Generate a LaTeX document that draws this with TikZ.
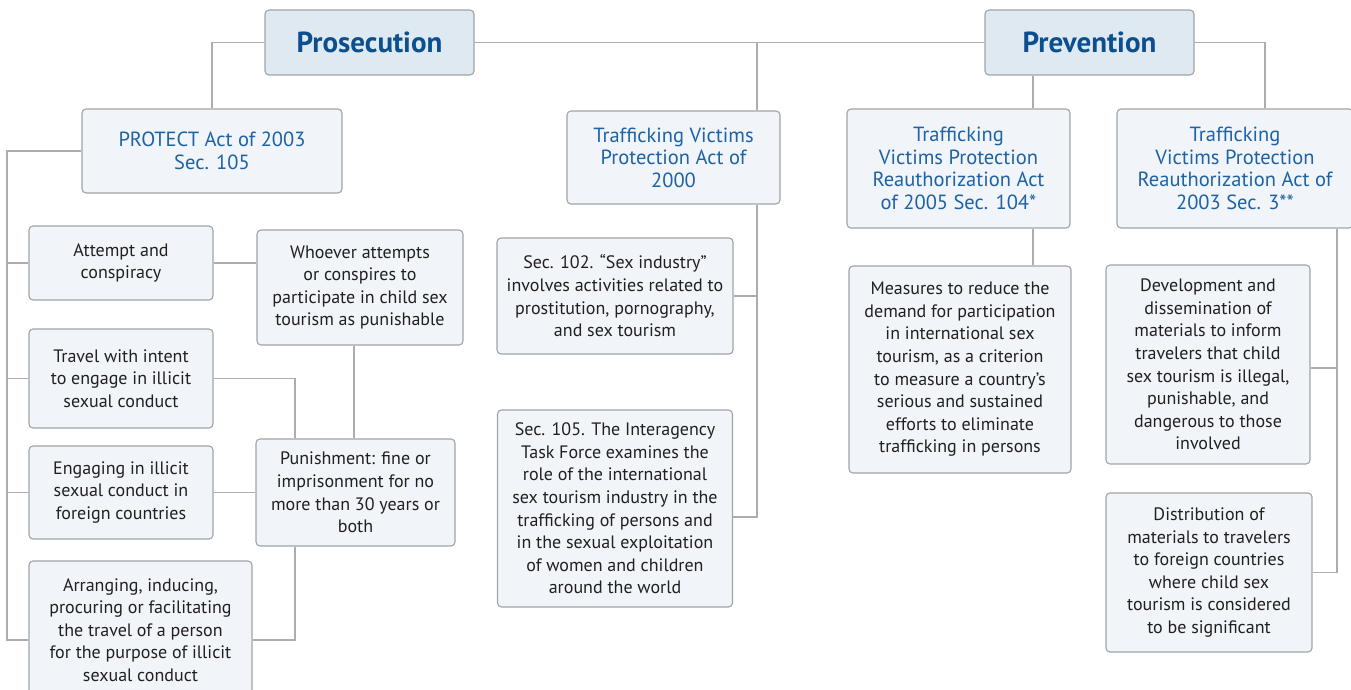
\documentclass[tikz,border=0pt]{standalone}
\usepackage{fontspec}
\setmainfont{PT Sans}
\usepackage{tikz}
\definecolor{headfill}{HTML}{DFE9F1}
\definecolor{boxfill}{HTML}{F1F4F9}
\definecolor{boxline}{HTML}{A0A4A9}
\definecolor{linkgray}{HTML}{ADADAD}
\definecolor{titleblue}{HTML}{0B4F8F}
\definecolor{actblue}{HTML}{1D63A5}
\definecolor{bodytext}{HTML}{231F20}
\tikzset{
  box/.style={draw=boxline, fill=boxfill, line width=1.1pt, rounded corners=4pt,
    inner sep=0pt, align=center, text=bodytext, font=\fontsize{18}{22.6}\selectfont},
  headbox/.style={box, fill=headfill, text=titleblue, font=\fontsize{29}{32}\selectfont\bfseries},
  actbox/.style={box, text=actblue, font=\fontsize{20.5}{22.6}\selectfont},
  link/.style={draw=linkgray, line width=1.1pt}
}
\begin{document}
\begin{tikzpicture}[x=1pt,y=-1pt]
  \useasboundingbox (0,0) rectangle (1351,690);
  % top level
  \node[headbox, minimum width=209, minimum height=65] (pros) at (369.5,42.5) {Prosecution};
  \node[headbox, minimum width=209, minimum height=65] (prev) at (1089.5,42.5) {Prevention};
  % acts
  \node[actbox, minimum width=260, minimum height=84] (protect) at (212,151) {PROTECT Act of 2003\\Sec. 105};
  \node[actbox, minimum width=213, minimum height=93] (tvpa) at (673.5,157.5) {Trafficking Victims\\Protection Act of\\2000};
  \node[actbox, minimum width=223, minimum height=119] (tvpraA) at (958.5,168.5) {Trafficking\\Victims Protection\\Reauthorization Act\\of 2005 Sec. 104*};
  \node[actbox, minimum width=236, minimum height=119] (tvpraB) at (1235,168.5) {Trafficking\\Victims Protection\\Reauthorization Act of\\2003 Sec. 3**};
  % PROTECT Act items
  \node[box, minimum width=184, minimum height=74] (attempt) at (121,263) {Attempt and\\conspiracy};
  \node[box, minimum width=206, minimum height=115] (whoever) at (360,287.5) {Whoever attempts\\or conspires to\\participate in child sex\\tourism as punishable};
  \node[box, minimum width=184, minimum height=99] (travel) at (121,378.5) {Travel with intent\\to engage in illicit\\sexual conduct};
  \node[box, minimum width=184, minimum height=93] (engage) at (121,492.5) {Engaging in illicit\\sexual conduct in\\foreign countries};
  \node[box, minimum width=199, minimum height=107] (punish) at (355.5,492.5) {Punishment: fine or\\imprisonment for no\\more than 30 years or\\both};
  \node[box, minimum width=223, minimum height=138] (arrange) at (140.5,630) {Arranging, inducing,\\procuring or facilitating\\the travel of a person\\for the purpose of illicit\\sexual conduct};
  % TVPA sections
  \node[box, minimum width=236, minimum height=116] (secA) at (615,296) {Sec. 102. ``Sex industry''\\involves activities related to\\prostitution, pornography,\\and sex tourism};
  \node[box, minimum width=235, minimum height=197] (secB) at (615,508.5) {Sec. 105. The Interagency\\Task Force examines the\\role of the international\\sex tourism industry in the\\trafficking of persons and\\in the sexual exploitation\\of women and children\\around the world};
  % prevention items
  \node[box, minimum width=222, minimum height=207] (measures) at (960,369.5) {Measures to reduce the\\demand for participation\\in international sex\\tourism, as a criterion\\to measure a country's\\serious and sustained\\efforts to eliminate\\trafficking in persons};
  \node[box, minimum width=204, minimum height=199] (develop) at (1208,364.5) {Development and\\dissemination of\\materials to inform\\travelers that child\\sex tourism is illegal,\\punishable, and\\dangerous to those\\involved};
  \node[box, minimum width=206, minimum height=159] (distrib) at (1209,572.5) {Distribution of\\materials to travelers\\to foreign countries\\where child sex\\tourism is considered\\to be significant};

  % junction columns
  \coordinate (ls) at (7,0);
  \coordinate (mj) at (295,0);
  \coordinate (wj) at (354,0);
  \coordinate (tj) at (757,0);
  \coordinate (pj) at (1033,0);
  \coordinate (rj) at (1265,0);
  \coordinate (rs) at (1337,0);
  \coordinate (arrW) at ([yshift=-10pt]arrange.west);
  \coordinate (arrE) at ([yshift=-10pt]arrange.east);
  \coordinate (secBE) at ([yshift=-8.5pt]secB.east);
  \coordinate (devE) at ([yshift=-3.5pt]develop.east);

  % links
  \draw[link] (pros.west) -| (protect.north);
  \draw[link] (pros.east) -- (prev.west);
  \draw[link] (tj |- pros.east) -- (tj |- tvpa.north);
  \draw[link] (tj |- tvpa.south) |- (secBE);
  \draw[link] (tj |- secA.east) -- (secA.east);
  \draw[link] (pj |- prev.south) -- (pj |- tvpraA.north);
  \draw[link] (pj |- tvpraA.south) -- (pj |- measures.north);
  \draw[link] (prev.east) -| (rj |- tvpraB.north);
  \draw[link] (rs |- tvpraB.south) |- (distrib.east);
  \draw[link] (devE) -- (rs |- devE);
  \draw[link] (protect.west) -| (ls |- arrW) -- (arrW);
  \foreach \n in {attempt,travel,engage}
    \draw[link] (ls |- \n.west) -- (\n.west);
  \draw[link] (attempt.east) -- (attempt.east -| whoever.west);
  \draw[link] (wj |- whoever.south) -- (wj |- punish.north);
  \draw[link] (travel.east) -| (mj |- punish.north);
  \draw[link] (arrE) -| (mj |- punish.south);
  \draw[link] (engage.east) -- (punish.west);
\end{tikzpicture}
\end{document}
